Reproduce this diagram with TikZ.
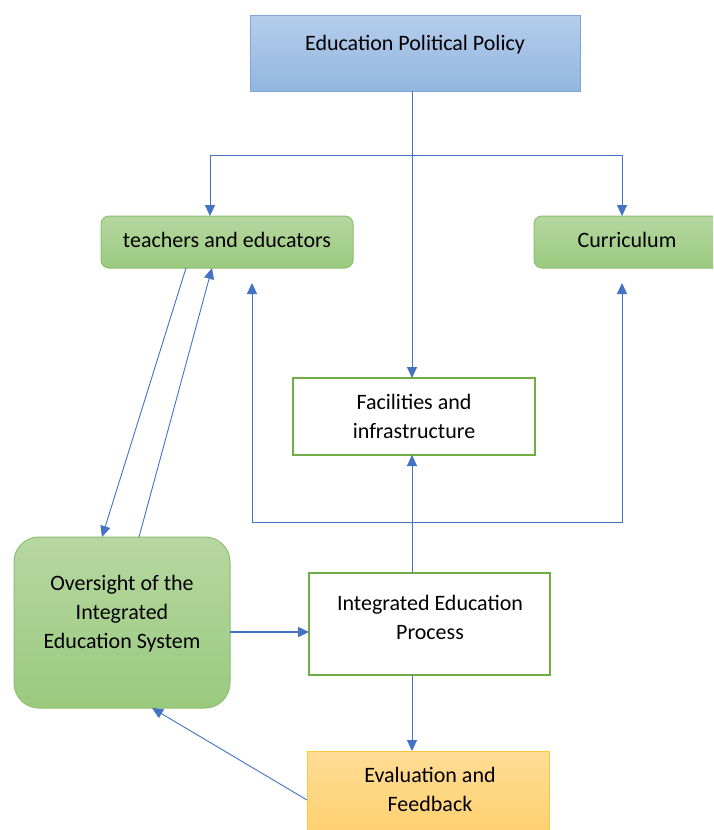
\documentclass[tikz,border=0pt]{standalone}
\usepackage{fontspec}
\setmainfont{Carlito}
\usetikzlibrary{arrows.meta,calc}
\definecolor{conncol}{HTML}{4472C4}
\definecolor{bluetop}{HTML}{B5CDEA}
\definecolor{bluebot}{HTML}{93B6E1}
\definecolor{blueedge}{HTML}{7FA6D6}
\definecolor{greentop}{HTML}{B6D7A1}
\definecolor{greenbot}{HTML}{9ACA7E}
\definecolor{greenedge}{HTML}{8CBF70}
\definecolor{greenline}{HTML}{70AD47}
\definecolor{orangetop}{HTML}{FFDC96}
\definecolor{orangebot}{HTML}{FFCF6B}
\definecolor{orangeedge}{HTML}{FFC73A}
\tikzset{
  boxbase/.style={inner sep=0pt, outer sep=0pt},
  bluebox/.style={boxbase, draw=blueedge, line width=1pt, top color=bluetop, bottom color=bluebot},
  greenbox/.style={boxbase, draw=greenedge, line width=1pt, top color=greentop, bottom color=greenbot},
  orangebox/.style={boxbase, draw=orangeedge, line width=1pt, top color=orangetop, bottom color=orangebot},
  whitebox/.style={boxbase, draw=greenline, line width=2pt, fill=white},
  txt/.style={inner sep=0pt, align=center, font=\fontsize{22}{29}\selectfont, text=black},
  conn/.style={draw=conncol, line width=0.9pt, -{Triangle[length=11pt,width=10pt]}},
  connboth/.style={draw=conncol, line width=0.9pt, {Triangle[length=11pt,width=10pt]}-{Triangle[length=11pt,width=10pt]}}
}
\begin{document}
\begin{tikzpicture}[x=1pt,y=-1pt]
\useasboundingbox (0,0) rectangle (713,830);
\clip (0,0) rectangle (713,830);
\fill[white] (0,0) rectangle (713,830);

% boxes
\node[bluebox, minimum width=330pt, minimum height=76pt] (pol) at (415,53) {};
\node[txt] (polt) at (415,45) {Education Political Policy};

\node[greenbox, rounded corners=8pt, minimum width=252pt, minimum height=52pt] (teach) at (227,242) {};
\node[txt] (teacht) at (227,240) {teachers and educators};

\node[greenbox, rounded corners=8pt, minimum width=190pt, minimum height=52pt] (curr) at (629,242) {};
\node[txt] (currt) at (627,240) {Curriculum};

\node[whitebox, minimum width=242pt, minimum height=77pt] (fac) at (414,416.5) {};
\node[txt] (fact) at (414,416) {Facilities and\\infrastructure};

\node[greenbox, rounded corners=25pt, minimum width=216pt, minimum height=171pt] (over) at (122,622.5) {};
\node[txt] (overt) at (122,614) {Oversight of the\\Integrated\\Education System};

\node[whitebox, minimum width=241pt, minimum height=102pt] (proc) at (429.5,624) {};
\node[txt] (proct) at (430,617) {Integrated Education\\Process};

\node[orangebox, minimum width=242pt, minimum height=90pt] (eval) at (428,796) {};
\node[txt] (evalt) at (430,789) {Evaluation and\\Feedback};

% helper coordinates
\coordinate (vx) at (412,0);
\coordinate (tx) at (210,0);
\coordinate (cx) at (622,0);
\coordinate (hb) at (0,155);
\coordinate (hl) at (0,522);
\coordinate (ta) at (252,283);
\coordinate (ca) at (622,283);

% connectors
\draw[conn] (pol.south -| vx) -- (fac.north -| vx);
\draw[connboth] (teach.north -| tx) |- (hb -| cx) -- (curr.north -| cx);
\draw[connboth] (ta) |- (hl -| ca) -- (ca);
\draw[conn] (proc.north -| vx) -- (fac.south -| vx);
\draw[conn] ($(teach.south west)+(85,0)$) -- ($(over.north west)+(88,0)$);
\draw[conn] ($(over.north west)+(125,0)$) -- ($(teach.south west)+(111,0)$);
\draw[conn, line width=1.5pt] ($(over.east)+(0,9.5)$) -- ($(proc.west)+(0,8)$);
\draw[conn] (proc.south -| vx) -- (eval.north -| vx);
\draw[conn] ($(eval.north west)+(0,49)$) -- ($(over.south west)+(138,0)$);
\end{tikzpicture}
\end{document}
